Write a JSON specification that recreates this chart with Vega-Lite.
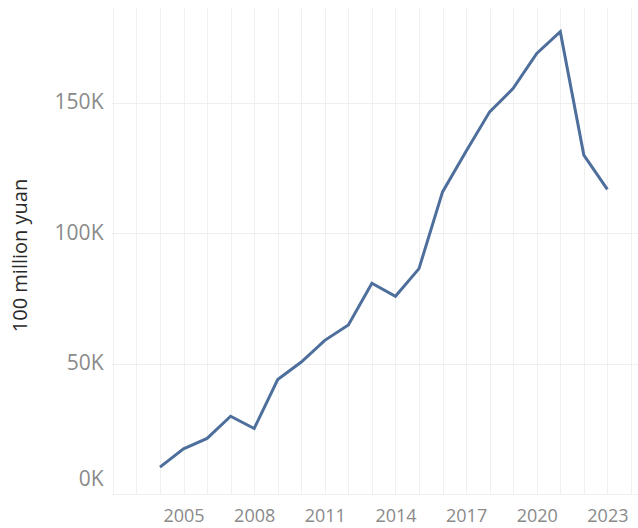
{
  "$schema": "https://vega.github.io/schema/vega-lite/v6.json",
  "autosize": "none",
  "padding": {"left": 111, "top": 8, "right": 0, "bottom": 34},
  "width": 527,
  "height": 486,
  "background": "white",
  "config": {
    "view": {"stroke": null},
    "font": "Open Sans"
  },
  "data": {
    "values": [
      {"year": 2004, "value": 10300},
      {"year": 2005, "value": 17300},
      {"year": 2006, "value": 21300},
      {"year": 2007, "value": 29800},
      {"year": 2008, "value": 25100},
      {"year": 2009, "value": 43900},
      {"year": 2010, "value": 50600},
      {"year": 2011, "value": 58900},
      {"year": 2012, "value": 64800},
      {"year": 2013, "value": 80800},
      {"year": 2014, "value": 75800},
      {"year": 2015, "value": 86400},
      {"year": 2016, "value": 115800},
      {"year": 2017, "value": 131400},
      {"year": 2018, "value": 146500},
      {"year": 2019, "value": 155500},
      {"year": 2020, "value": 168900},
      {"year": 2021, "value": 177200},
      {"year": 2022, "value": 129900},
      {"year": 2023, "value": 116800}
    ]
  },
  "mark": {"type": "line", "color": "#4e6f9c", "strokeWidth": 3, "strokeJoin": "miter"},
  "encoding": {
    "x": {
      "field": "year",
      "type": "quantitative",
      "scale": {"domain": [2001.92, 2024.3], "nice": false, "zero": false},
      "axis": {
        "title": null,
        "values": [2002, 2003, 2004, 2005, 2006, 2007, 2008, 2009, 2010, 2011, 2012, 2013, 2014, 2015, 2016, 2017, 2018, 2019, 2020, 2021, 2022, 2023, 2024],
        "format": "d",
        "labelExpr": "(datum.value >= 2005 && (datum.value - 2005) % 3 == 0) ? datum.label : ''",
        "labelOverlap": false,
        "labelFlush": false,
        "ticks": false,
        "domain": false,
        "grid": true,
        "gridColor": "#f0f0f0",
        "gridWidth": 1,
        "labelFontSize": 18,
        "labelColor": "#8a8a8a",
        "labelPadding": 13
      }
    },
    "y": {
      "field": "value",
      "type": "quantitative",
      "scale": {"domain": [0, 186300], "nice": false},
      "axis": {
        "title": "100 million yuan",
        "values": [0, 50000, 100000, 150000],
        "labelExpr": "(datum.value / 1000) + 'K'",
        "ticks": false,
        "domain": false,
        "grid": true,
        "gridColor": "#efefef",
        "gridWidth": 1,
        "labelFontSize": 21,
        "labelColor": "#8a8a8a",
        "labelPadding": 8,
        "labelFlush": true,
        "labelFlushOffset": -5,
        "titleFontSize": 20,
        "titleFontWeight": "normal",
        "titleColor": "#2a2a2a",
        "titleX": -91,
        "titleY": 247,
        "titleAlign": "center",
        "titleBaseline": "middle",
        "titleAngle": -90
      }
    }
  }
}
